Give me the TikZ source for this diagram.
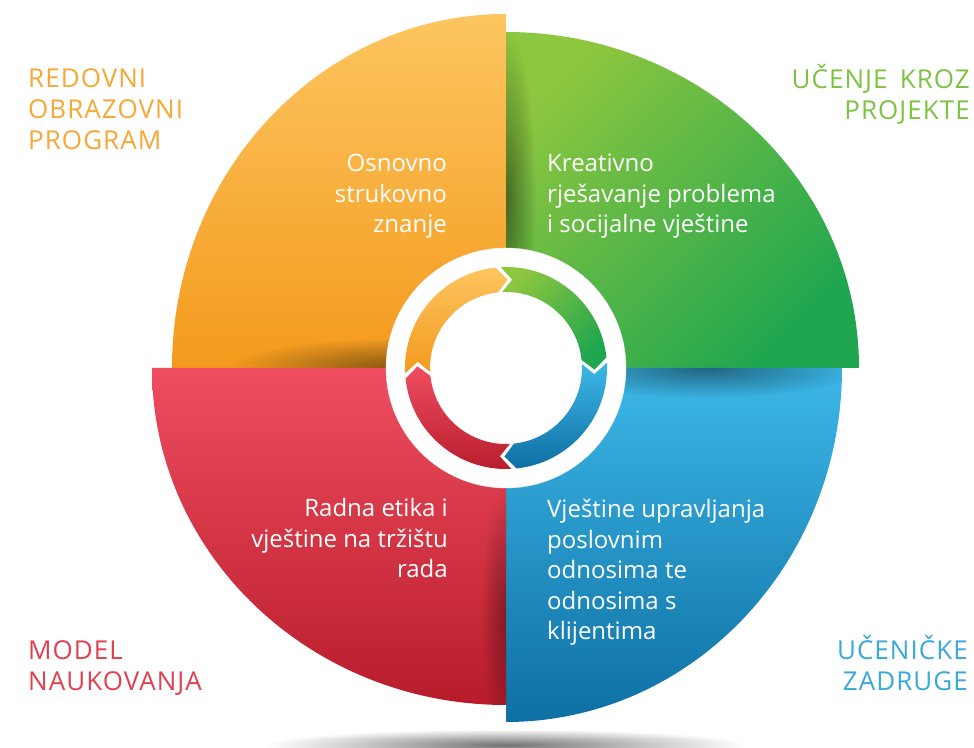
\documentclass[tikz,border=0pt]{standalone}
\usepackage{fontspec}
\setmainfont{Open Sans}
\newfontfamily\capsfont[LetterSpace=4]{Open Sans}
\usepackage{xcolor}
\usepackage{tikz}
\usetikzlibrary{fadings}

\definecolor{orangeA}{HTML}{FDC560}
\definecolor{orangeB}{HTML}{F39A1C}
\definecolor{greenA}{HTML}{8DC63F}
\definecolor{greenB}{HTML}{1FA64F}
\definecolor{blueA}{HTML}{3DB8E8}
\definecolor{blueB}{HTML}{0E6FA3}
\definecolor{redA}{HTML}{EE4E5F}
\definecolor{redB}{HTML}{B81C2B}
\definecolor{orangeT}{HTML}{F7A735}
\definecolor{greenT}{HTML}{7DC243}
\definecolor{redT}{HTML}{E23F4F}
\definecolor{blueT}{HTML}{39A9DA}
\tikzfading[name=softspot, inner color=transparent!0, outer color=transparent!100]

\begin{document}
\begin{tikzpicture}[
    x=1pt, y=1pt,
    cornerlabel/.style={font=\capsfont\fontsize{26}{31}\selectfont, inner sep=0pt},
    innerlabel/.style={font=\fontsize{24}{30.5}\selectfont, inner sep=0pt, text=white}
]
\useasboundingbox (0,0) rectangle (974,747);
\shade[inner color=black!55, outer color=white] (506,2) ellipse [x radius=240, y radius=16];
\foreach \a/\rx/\ry/\ca/\cb/\ang/\sx/\sy/\sa/\sb/\op in {
    180/334/354/orangeA/orangeB/0/400/379/170/30/0.45,
    90/353/336/greenA/greenB/45/506/547/30/170/0.45,
    0/336/354/blueA/blueB/0/705/379/160/30/0.45,
    270/354/337/redA/redB/0/506/130/25/130/0.35}{
  \begin{scope}
    \clip (506,379) -- ++({\rx*cos(\a)},{\ry*sin(\a)}) arc[start angle=\a, delta angle=-90, x radius=\rx, y radius=\ry] -- cycle;
    \shade[top color=\ca, bottom color=\cb, shading angle=\ang] (506,379) -- ++({\rx*cos(\a)},{\ry*sin(\a)}) arc[start angle=\a, delta angle=-90, x radius=\rx, y radius=\ry] -- cycle;
    \fill[black, opacity=\op, path fading=softspot] (\sx,\sy) ellipse [x radius=\sa, y radius=\sb];
  \end{scope}
}
\fill[white, draw=black!8] (506,379) circle [radius=120];
\begin{scope}[shift={(506,379)}]
\foreach \t/\h/\ca/\cb/\ang in {
    183/96/orangeA/orangeB/0,
    93/6/greenA/greenB/45,
    3/-84/blueA/blueB/0,
    -87/-174/redA/redB/0}{
  \shade[top color=\ca, bottom color=\cb, shading angle=\ang] (\t:101) arc[start angle=\t, end angle=\h, radius=101] -- ({\h-7}:88.5) -- (\h:76) arc[start angle=\h, end angle=\t, radius=76] -- ({\t-7}:88.5) -- cycle;
}
\end{scope}
\node[cornerlabel, text=orangeT, align=left, anchor=base west] (redovni) at (28,597) {REDOVNI\\OBRAZOVNI\\PROGRAM};
\node[cornerlabel, text=greenT, align=right, anchor=base east] (projekti) at (970,627) {UČENJE\ \,KROZ\\PROJEKTE};
\node[cornerlabel, text=redT, align=left, anchor=base west] (naukovanje) at (28,57) {MODEL\\NAUKOVANJA};
\node[cornerlabel, text=blueT, align=right, anchor=base east] (zadruge) at (968,57) {UČENIČKE\\ZADRUGE};
\node[innerlabel, align=right, anchor=base east] (znanje) at (447,514) {Osnovno\\strukovno\\znanje};
\node[innerlabel, align=left, anchor=base west] (kreativno) at (547,514) {Kreativno\\rješavanje problema\\i socijalne vještine};
\node[innerlabel, align=right, anchor=base east] (etika) at (448,169) {Radna etika i\\vještine na tržištu\\rada};
\node[innerlabel, align=left, anchor=base west] (odnosi) at (547,107) {Vještine upravljanja\\poslovnim\\odnosima te\\odnosima s\\klijentima};
\end{tikzpicture}
\end{document}
